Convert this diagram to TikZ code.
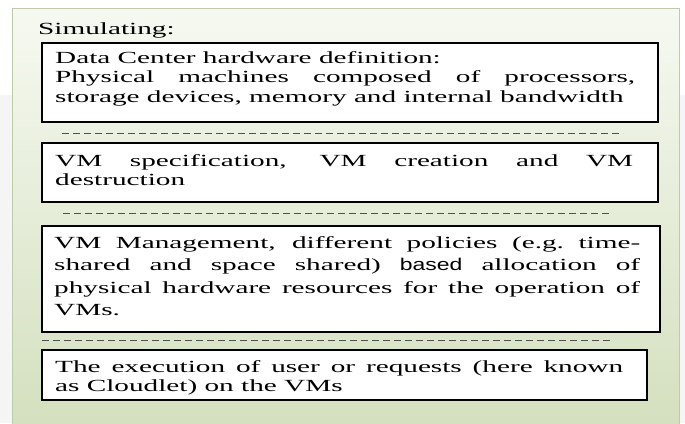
\documentclass[tikz,border=0pt]{standalone}
\usepackage{fontspec}
\setmainfont{Liberation Serif}[FakeStretch=1.72]
\newfontfamily\basedfont{Liberation Sans}[FakeStretch=1.35]
\usetikzlibrary{positioning}
\definecolor{paneltop}{RGB}{246,249,241}
\definecolor{panelgreen}{RGB}{211,223,189}
\definecolor{panelrim}{RGB}{190,202,170}
\definecolor{sepgray}{RGB}{80,80,80}
\tikzset{
  blk/.style={draw=black, line width=1.8pt, fill=white},
  txt/.style={anchor=base west, inner sep=0pt, align=justify,
    font=\fontsize{17}{19.5}\selectfont},
  sepline/.style={draw=sepgray, line width=0.9pt, dash pattern=on 7pt off 4pt},
}

\begin{document}
\begin{tikzpicture}[x=1pt,y=-1pt]
    \useasboundingbox (0,0) rectangle (685,423);
    \clip (0,0) rectangle (685,423);
    \fill[gray!8] (0,0) rectangle (685,423);
    \fill[white] (0,0) rectangle (685,95);
    \shade[top color=paneltop, bottom color=panelgreen, draw=panelrim, line width=1pt]
        (12,8) rectangle (679,440);

    \node [txt] (title) at (38,34) {Simulating:};

    % hardware
    \draw[blk] (42,43) rectangle (658,122);
    \node [txt, text width=580pt] (hw) at (55,63)
        {Data Center hardware definition:\\
         Physical machines composed of processors,\linebreak
         storage devices, memory and internal bandwidth};
    \draw[sepline] (62,133) -- (623,133);

    % vm
    \draw[blk] (42,143) rectangle (658,202);
    \node [txt, text width=578pt] (vmspec) at (55,166)
        {VM specification, VM creation and VM\linebreak destruction};
    \draw[sepline] (63,213) -- (610,213);

    % management
    \draw[blk] (42,226) rectangle (660,332);
    \node [txt, text width=586pt, font=\fontsize{17}{22.5}\selectfont] (vmmgmt) at (54,248)
        {VM Management, different policies (e.g.\ time-\linebreak
         shared and space shared) {\basedfont based} allocation of\linebreak
         physical hardware resources for the operation of\linebreak
         VMs.};
    \draw[sepline] (42,340) -- (610,340);

    % cloudlets
    \draw[blk] (42,350) rectangle (647,400);
    \node [txt, text width=568pt, font=\fontsize{17}{19}\selectfont] (exec) at (55,372)
        {The execution of user or requests (here known\linebreak
         as Cloudlet) on the VMs};
\end{tikzpicture}
\end{document}
